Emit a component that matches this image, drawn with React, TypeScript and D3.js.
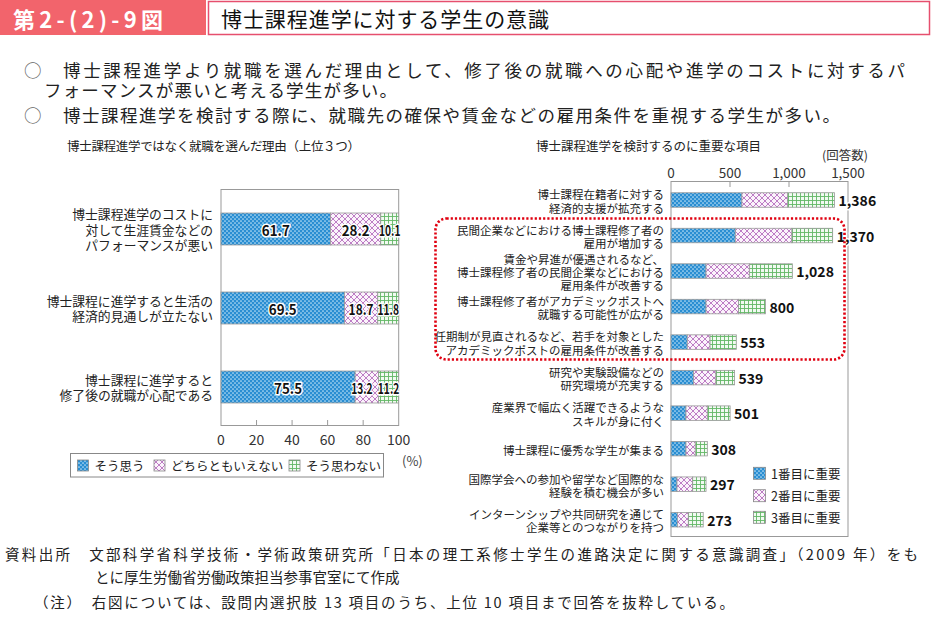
import React from "react";
import * as d3 from "d3";

const leftCategories = [
  ["博士課程進学のコストに", "対して生涯賃金などの", "パフォーマンスが悪い"],
  ["博士課程に進学すると生活の", "経済的見通しが立たない"],
  ["博士課程に進学すると", "修了後の就職が心配である"],
];
const leftYes = [61.7, 69.5, 75.5];
const leftNeutral = [28.2, 18.7, 13.2];
const leftNo = [10.1, 11.8, 11.2];
const leftSeriesNames = ["そう思う", "どちらともいえない", "そう思わない"];
const leftTicks = [0, 20, 40, 60, 80, 100];

const rightCategories = [
  ["博士課程在籍者に対する", "経済的支援が拡充する"],
  ["民間企業などにおける博士課程修了者の", "雇用が増加する"],
  ["賃金や昇進が優遇されるなど、", "博士課程修了者の民間企業などにおける", "雇用条件が改善する"],
  ["博士課程修了者がアカデミックポストへ", "就職する可能性が広がる"],
  ["任期制が見直されるなど、若手を対象とした", "アカデミックポストの雇用条件が改善する"],
  ["研究や実験設備などの", "研究環境が充実する"],
  ["産業界で幅広く活躍できるような", "スキルが身に付く"],
  ["博士課程に優秀な学生が集まる"],
  ["国際学会への参加や留学など国際的な", "経験を積む機会が多い"],
  ["インターンシップや共同研究を通じて", "企業等とのつながりを持つ"],
];
const rightFirst = [601, 545, 297, 297, 138, 192, 127, 127, 51, 54];
const rightSecond = [388, 480, 367, 276, 193, 189, 181, 79, 133, 93];
const rightThird = [397, 345, 364, 227, 222, 158, 193, 102, 113, 126];
const rightSeriesNames = ["1番目に重要", "2番目に重要", "3番目に重要"];
const rightTicks = [0, 500, 1000, 1500];

const FONT = "'Noto Sans CJK JP', 'Noto Sans', sans-serif";
const patterns = ["url(#pBlue)", "url(#pPink)", "url(#pGreen)"];

function HaloText(props: any) {
  const { x, y, children, size = 13.5, width } = props;
  const extra = width ? { textLength: width, lengthAdjust: "spacingAndGlyphs" } : {};
  return (
    <g fontFamily={FONT} fontSize={size} fontWeight="bold" textAnchor="middle">
      <text x={x} y={y} dominantBaseline="central" stroke="#fff" strokeWidth={3} strokeLinejoin="round" fill="#fff" {...extra}>{children}</text>
      <text x={x} y={y} dominantBaseline="central" fill="#111" {...extra}>{children}</text>
    </g>
  );
}

export default function App() {
  // Left chart scales
  const lx = d3.scaleLinear().domain([0, 100]).range([221, 398.7]);
  const ly = d3.scalePoint<number>().domain(d3.range(leftCategories.length)).range([229, 387]);
  const lBarH = 32;
  const leftStack = leftCategories.map((_, i) => {
    const vals = [leftYes[i], leftNeutral[i], leftNo[i]];
    let acc = 0;
    return vals.map((v) => {
      const s = { x0: acc, x1: acc + v, v };
      acc += v;
      return s;
    });
  });

  // Right chart scales
  const rx = d3.scaleLinear().domain([0, 1500]).range([671, 848]);
  const ry = d3.scalePoint<number>().domain(d3.range(rightCategories.length)).range([200, 519.7]);
  const rBarH = 14.5;
  const rightStack = rightCategories.map((_, i) => {
    const vals = [rightFirst[i], rightSecond[i], rightThird[i]];
    let acc = 0;
    return vals.map((v) => {
      const s = { x0: acc, x1: acc + v };
      acc += v;
      return s;
    });
  });
  const rightTotals = rightCategories.map((_, i) => rightFirst[i] + rightSecond[i] + rightThird[i]);
  const fmt = d3.format(",");

  return (
    <svg width={932} height={631} style={{ position: "absolute", left: 0, top: 0, background: "#fff" }} fontFamily={FONT}>
      <defs>
        <pattern id="pBlue" width={4} height={4} patternUnits="userSpaceOnUse">
          <rect width={4} height={4} fill="#2a8ed2" />
          <circle cx={1} cy={1} r={0.85} fill="#bfe3f7" />
          <circle cx={3} cy={3} r={0.85} fill="#bfe3f7" />
        </pattern>
        <pattern id="pPink" width={6} height={6} patternUnits="userSpaceOnUse">
          <rect width={6} height={6} fill="#fbf3fb" />
          <path d="M0,0L6,6M6,0L0,6M-1,5L1,7M5,-1L7,1" stroke="#b66fbe" strokeWidth={0.9} />
        </pattern>
        <pattern id="pGreen" width={4} height={4} patternUnits="userSpaceOnUse">
          <rect width={4} height={4} fill="#f2faf2" />
          <path d="M0,0.5H4M0.5,0V4" stroke="#62b865" strokeWidth={0.9} />
        </pattern>
      </defs>

      {/* Header */}
      <rect x={0} y={0} width={206} height={35} fill="#f2646c" />
      <text x={13} y={18} dominantBaseline="central" fill="#fff" fontSize={22} fontWeight="bold" textLength={150} lengthAdjust="spacing">第2-(2)-9図</text>
      <rect x={208.5} y={1.5} width={721} height={33} fill="#fff" stroke="#e64f6e" strokeWidth={1.5} />
      <text x={221} y={18} dominantBaseline="central" fill="#111" fontSize={21} textLength={328} lengthAdjust="spacing">博士課程進学に対する学生の意識</text>

      {/* Bullets */}
      <g fontSize={17.5} fill="#222">
        <text x={24} y={69.5} dominantBaseline="central" fill="#666">○</text>
        <text x={63} y={69.5} dominantBaseline="central" textLength={842} lengthAdjust="spacing">博士課程進学より就職を選んだ理由として、修了後の就職への心配や進学のコストに対するパ</text>
        <text x={44} y={89} dominantBaseline="central" textLength={353} lengthAdjust="spacing">フォーマンスが悪いと考える学生が多い。</text>
        <text x={24} y={114} dominantBaseline="central" fill="#666">○</text>
        <text x={63} y={114} dominantBaseline="central" textLength={777} lengthAdjust="spacing">博士課程進学を検討する際に、就職先の確保や賃金などの雇用条件を重視する学生が多い。</text>
      </g>

      {/* Left chart */}
      <text x={67} y={145} dominantBaseline="central" fontSize={12.5} fill="#222" textLength={293} lengthAdjust="spacing">博士課程進学ではなく就職を選んだ理由（上位３つ）</text>
      <rect x={lx(0)} y={189.5} width={lx(100) - lx(0)} height={236} fill="#fff" stroke="#999" strokeWidth={1} />
      {leftTicks.slice(1, -1).map((t) => (
        <line key={t} x1={lx(t)} x2={lx(t)} y1={425.5} y2={420} stroke="#999" />
      ))}
      {leftTicks.map((t) => (
        <text key={t} x={lx(t)} y={439} textAnchor="middle" dominantBaseline="central" fontSize={14} fill="#333">{t}</text>
      ))}
      <text x={402} y={460} dominantBaseline="central" fontSize={13} fill="#444">(%)</text>
      {leftStack.map((segs, i) => (
        <g key={i}>
          {segs.map((s, j) => (
            <rect key={j} x={lx(s.x0)} y={ly(i)! - lBarH / 2} width={lx(s.x1) - lx(s.x0)} height={lBarH} fill={patterns[j]} stroke="#999" strokeWidth={0.8} />
          ))}
          {segs.map((s, j) => {
            const cx = (lx(s.x0) + lx(s.x1)) / 2;
            const w = lx(s.x1) - lx(s.x0);
            return (
              <HaloText key={"t" + j} x={w < 30 && j === 1 ? cx - 5 : cx} y={ly(i)!} size={14.5} width={w < 30 ? 21.5 : w < 40 ? 25 : 28}>{s.v.toFixed(1)}</HaloText>
            );
          })}
          {leftCategories[i].map((line, k) => (
            <text key={"l" + k} x={213} y={ly(i)! + (k - (leftCategories[i].length - 1) / 2) * 15.8} textAnchor="end" dominantBaseline="central" fontSize={12.8} fill="#222">{line}</text>
          ))}
        </g>
      ))}
      {/* Left legend */}
      <rect x={70.5} y={453.5} width={313} height={23.5} fill="#fff" stroke="#888" />
      {leftSeriesNames.map((n, j) => {
        const xs = [77.5, 154, 289];
        return (
          <g key={n}>
            <rect x={xs[j]} y={460} width={11} height={11} fill={patterns[j]} stroke="#888" strokeWidth={0.8} />
            <text x={xs[j] + 17} y={465.5} dominantBaseline="central" fontSize={12.5} fill="#222">{n}</text>
          </g>
        );
      })}

      {/* Right chart */}
      <text x={536} y={145} dominantBaseline="central" fontSize={12.5} fill="#222" textLength={225} lengthAdjust="spacing">博士課程進学を検討するのに重要な項目</text>
      <text x={822} y={154} dominantBaseline="central" fontSize={12.5} fill="#333">(回答数)</text>
      <rect x={rx(0)} y={181.5} width={rx(1500) - rx(0)} height={355} fill="#fff" stroke="#999" strokeWidth={1} />
      {rightTicks.slice(1, -1).map((t) => (
        <line key={t} x1={rx(t)} x2={rx(t)} y1={181.5} y2={187} stroke="#999" />
      ))}
      {rightTicks.map((t) => (
        <text key={t} x={rx(t)} y={171.5} textAnchor="middle" dominantBaseline="central" fontSize={13.5} fill="#333">{fmt(t)}</text>
      ))}
      {rightStack.map((segs, i) => (
        <g key={i}>
          {segs.map((s, j) => (
            <rect key={j} x={rx(s.x0)} y={ry(i)! - rBarH / 2} width={rx(s.x1) - rx(s.x0)} height={rBarH} fill={patterns[j]} stroke="#999" strokeWidth={0.8} />
          ))}
          <g fontSize={14} fontWeight="bold">
            <text x={rx(rightTotals[i]) + 4} y={ry(i)!} dominantBaseline="central" stroke="#fff" strokeWidth={3} strokeLinejoin="round" fill="#fff">{fmt(rightTotals[i])}</text>
            <text x={rx(rightTotals[i]) + 4} y={ry(i)!} dominantBaseline="central" fill="#111">{fmt(rightTotals[i])}</text>
          </g>
          {rightCategories[i].map((line, k) => (
            <text key={"l" + k} x={664} y={ry(i)! + 1 + (k - (rightCategories[i].length - 1) / 2) * 13.3} textAnchor="end" dominantBaseline="central" fontSize={11.5} fill="#222">{line}</text>
          ))}
        </g>
      ))}
      {/* Red dotted box */}
      <rect x={435.5} y={218.5} width={409} height={141} rx={11} fill="none" stroke="#e00010" strokeWidth={2.6} strokeDasharray="2.2,2" />
      {/* Right legend */}
      {rightSeriesNames.map((n, j) => {
        const ys = [473.3, 495.7, 517.3];
        return (
          <g key={n}>
            <rect x={753.5} y={ys[j] - 6} width={12} height={12} fill={patterns[j]} stroke="#888" strokeWidth={0.8} />
            <text x={771} y={ys[j]} dominantBaseline="central" fontSize={12.5} fill="#222">{n}</text>
          </g>
        );
      })}

      {/* Footer */}
      <g fontSize={14.5} fill="#222">
        <text x={5} y={553} dominantBaseline="central" textLength={913} lengthAdjust="spacing">資料出所　文部科学省科学技術・学術政策研究所「日本の理工系修士学生の進路決定に関する意識調査」（2009 年）をも</text>
        <text x={95} y={576} dominantBaseline="central">とに厚生労働省労働政策担当参事官室にて作成</text>
        <text x={34} y={601} dominantBaseline="central" textLength={700} lengthAdjust="spacing">（注）　右図については、設問内選択肢 13 項目のうち、上位 10 項目まで回答を抜粋している。</text>
      </g>
    </svg>
  );
}
